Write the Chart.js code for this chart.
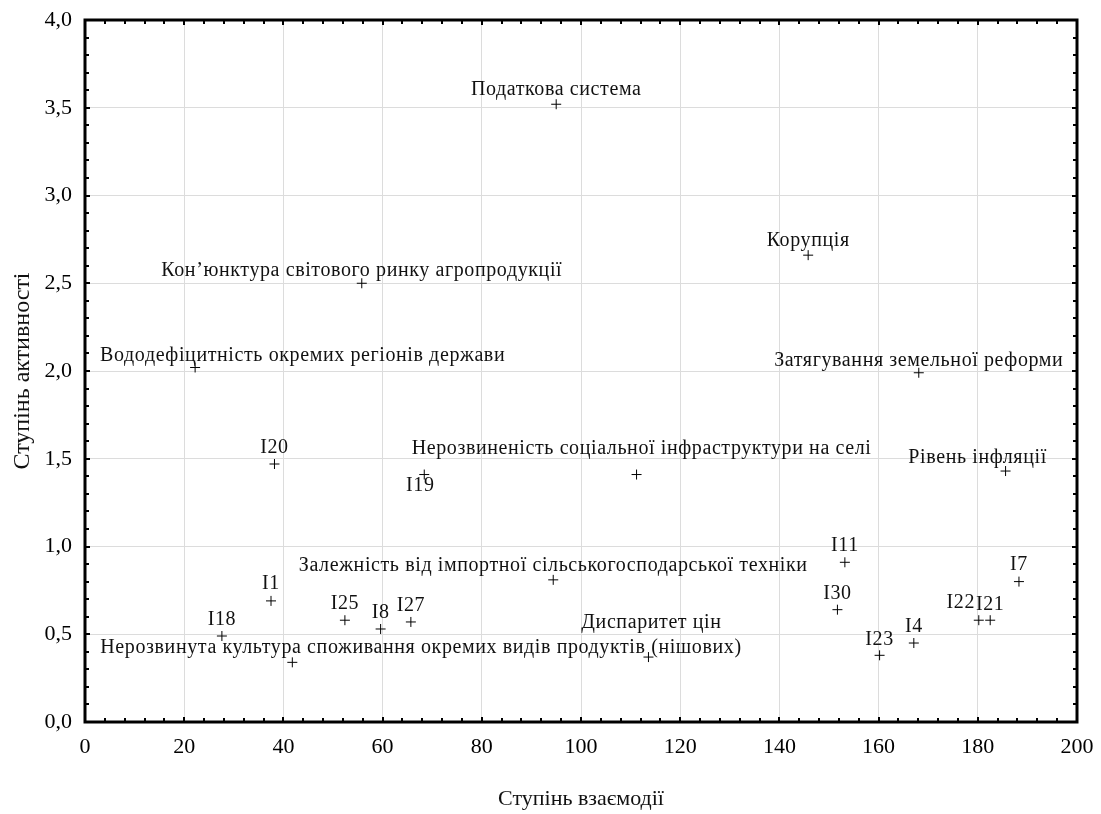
<!DOCTYPE html>
<html lang="uk">
<head>
<meta charset="utf-8">
<title>Ступінь взаємодії та активності</title>
<script src="https://cdn.jsdelivr.net/npm/chart.js@4"></script>
<style>
  html, body { margin: 0; padding: 0; background: #fff; }
  #wrap { width: 1101px; height: 814px; }
</style>
</head>
<body>
<div id="wrap"><canvas id="chart"></canvas></div>
<script>
// Point names, as printed next to each marker
const pointNames = [
  "Податкова система",
  "Корупція",
  "Кон’юнктура світового ринку агропродукції",
  "Вододефіцитність окремих регіонів держави",
  "Затягування земельної реформи",
  "Рівень інфляції",
  "I20",
  "I19",
  "Нерозвиненість соціальної інфраструктури на селі",
  "I11",
  "Залежність від імпортної сільськогосподарської техніки",
  "I1",
  "I25",
  "I8",
  "I27",
  "I18",
  "Нерозвинута культура споживання окремих видів продуктів (нішових)",
  "Диспаритет цін",
  "I30",
  "I23",
  "I4",
  "I22",
  "I21",
  "I7",
]

// Ступінь взаємодії (x)
const interaction = [
  95.0, 145.8, 55.8, 22.2, 168.1, 185.6, 38.2, 68.4, 111.2, 153.2, 94.4, 37.5,
  52.4, 59.6, 65.7, 27.6, 41.8, 113.6, 151.7, 160.2, 167.1, 180.2, 182.5, 188.3,
]

// Ступінь активності (y)
const activity = [
  3.52, 2.66, 2.50, 2.02, 1.99, 1.43, 1.47, 1.41, 1.41, 0.91, 0.81, 0.69,
  0.58, 0.53, 0.57, 0.49, 0.34, 0.37, 0.64, 0.38, 0.45, 0.58, 0.58, 0.80,
]

// Tick labels
const xTickLabels = ["0", "20", "40", "60", "80", "100", "120", "140", "160", "180", "200"]
const yTickLabels = ["0,0", "0,5", "1,0", "1,5", "2,0", "2,5", "3,0", "3,5", "4,0"]

// Where each name sits relative to its marker: [dx, dy, align]
const labelPlacement = [
  [0, -14, "center"], [0, -14, "center"], [0, -13, "center"], [-95, -12, "left"],
  [0, -12, "center"], [-28, -13, "center"], [0, -16, "center"], [-4, 11, "center"],
  [5, -26, "center"], [0, -17, "center"], [0, -14, "center"], [0, -17, "center"],
  [0, -16, "center"], [0, -16, "center"], [0, -16, "center"], [0, -16, "center"],
  [-192, -15, "left"], [3, -34, "center"], [0, -16, "center"], [0, -16, "center"],
  [0, -16, "center"], [-18, -17, "center"], [0, -15, "center"], [0, -17, "center"],
]

const serif = "'Liberation Serif', 'Times New Roman', serif"

// keep tick label overflow from shrinking the plot area
function noOverflow(scale) {
  scale.paddingTop = 0
  scale.paddingBottom = 0
  scale.paddingLeft = 0
  scale.paddingRight = 0
}

// Frame, inner minor ticks and point names
const decorPlugin = {
  id: "decor",
  afterDatasetsDraw(chart) {
    const { ctx, chartArea: a, scales } = chart
    const xs = scales.x
    const ys = scales.y
    ctx.save()

    // minor ticks, pointing inwards on all four sides
    ctx.strokeStyle = "#000"
    ctx.lineWidth = 2
    ctx.beginPath()
    for (let v = 0; v <= 200; v += 4) {
      const px = Math.round(xs.getPixelForValue(v))
      const len = v % 20 === 0 ? 5 : 4
      ctx.moveTo(px, a.bottom)
      ctx.lineTo(px, a.bottom - len)
      ctx.moveTo(px, a.top)
      ctx.lineTo(px, a.top + len)
    }
    for (let i = 0; i <= 40; i++) {
      const py = Math.round(ys.getPixelForValue(i / 10))
      const len = i % 5 === 0 ? 5 : 4
      ctx.moveTo(a.left, py)
      ctx.lineTo(a.left + len, py)
      ctx.moveTo(a.right, py)
      ctx.lineTo(a.right - len, py)
    }
    ctx.stroke()

    // frame
    ctx.lineWidth = 3
    ctx.strokeRect(a.left, a.top, a.right - a.left, a.bottom - a.top)

    // point names
    ctx.fillStyle = "#111"
    ctx.font = "20px " + serif
    ctx.letterSpacing = "0.6px"
    ctx.textBaseline = "middle"
    const meta = chart.getDatasetMeta(0)
    meta.data.forEach((pt, i) => {
      const [dx, dy, align] = labelPlacement[i]
      ctx.textAlign = align
      ctx.fillText(pointNames[i], pt.x + dx, pt.y + dy)
    })
    ctx.restore()
  },
}

const ctx = document.getElementById("chart").getContext("2d")

new Chart(ctx, {
  type: "scatter",
  data: {
    datasets: [
      {
        data: interaction.map((x, i) => ({ x: x, y: activity[i] })),
        pointStyle: "cross",
        radius: 5,
        borderColor: "#000",
        borderWidth: 1,
      },
    ],
  },
  options: {
    responsive: true,
    maintainAspectRatio: false,
    animation: false,
    layout: { padding: { top: 20, right: 24, left: 0, bottom: 0 } },
    plugins: {
      legend: { display: false },
      tooltip: { enabled: false },
    },
    scales: {
      x: {
        type: "linear",
        min: 0,
        max: 200,
        afterFit: (scale) => {
          scale.height = 92
          noOverflow(scale)
        },
        afterBuildTicks: (scale) => {
          scale.ticks = xTickLabels.map((t) => ({ value: Number(t) }))
        },
        grid: { color: "#dcdcdc", lineWidth: 1, drawTicks: false },
        border: { display: false },
        ticks: {
          padding: 12,
          color: "#000",
          font: { family: serif, size: 22 },
          callback: (value, i) => xTickLabels[i],
        },
        title: {
          display: true,
          text: "Ступінь взаємодії",
          color: "#111",
          font: { family: serif, size: 22 },
          padding: { top: 0, bottom: 2 },
        },
      },
      y: {
        type: "linear",
        min: 0,
        max: 4,
        afterFit: (scale) => {
          scale.width = 85
          noOverflow(scale)
        },
        afterBuildTicks: (scale) => {
          scale.ticks = yTickLabels.map((t) => ({ value: Number(t.replace(",", ".")) }))
        },
        grid: { color: "#dcdcdc", lineWidth: 1, drawTicks: false },
        border: { display: false },
        ticks: {
          padding: 13,
          color: "#000",
          font: { family: serif, size: 22 },
          callback: (value, i) => yTickLabels[i],
        },
        title: {
          display: true,
          text: "Ступінь активності",
          color: "#111",
          font: { family: serif, size: 24 },
          padding: { top: 8, bottom: 0 },
        },
      },
    },
  },
  plugins: [decorPlugin],
})
</script>
</body>
</html>
